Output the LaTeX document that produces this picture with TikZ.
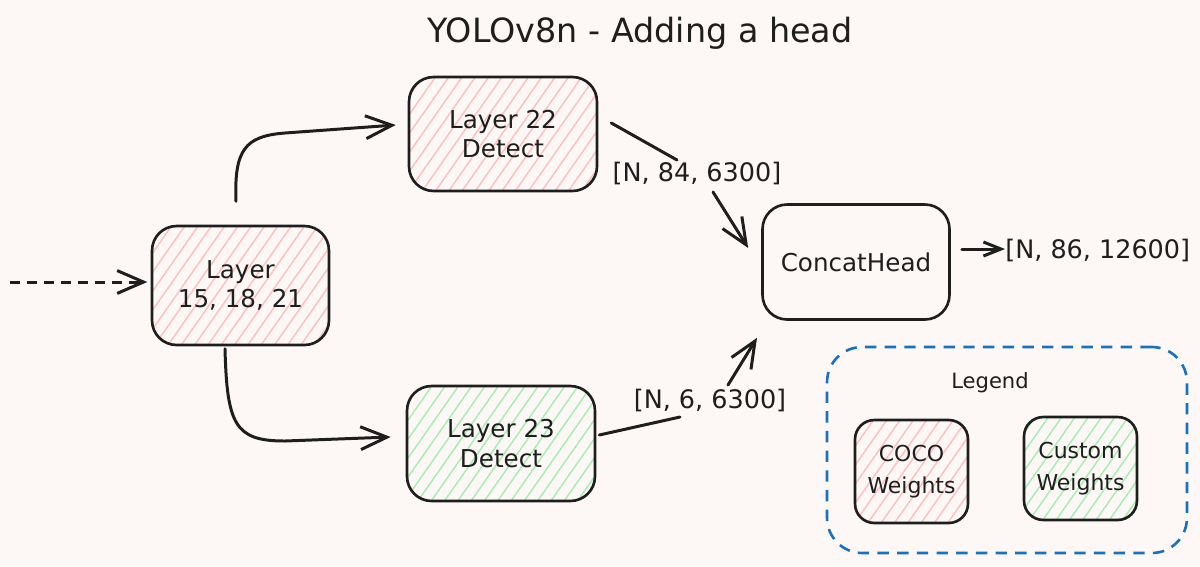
\documentclass[tikz,border=0pt]{standalone}
\usepackage{fontspec}
\setmainfont{DejaVu Sans}
\usetikzlibrary{arrows.meta,patterns.meta}
\definecolor{bg}{HTML}{FDF8F5}
\definecolor{ink}{HTML}{1E1E1E}
\definecolor{pinkh}{HTML}{FFC0C0}
\definecolor{greenh}{HTML}{A8EEB2}
\definecolor{legblue}{HTML}{1971C2}
\begin{document}
\begin{tikzpicture}[x=0.02cm,y=-0.02cm,
  box/.style={draw=ink,line width=1.5pt,rounded corners=14pt,align=center,inner sep=0pt,
    text=ink,font=\fontsize{14}{17}\selectfont},
  cocobox/.style={box,pattern={Lines[angle=55,distance=6.2pt,line width=0.85pt]},pattern color=pinkh},
  custombox/.style={box,pattern={Lines[angle=55,distance=6.2pt,line width=0.85pt]},pattern color=greenh},
  smallbox/.style={rounded corners=11pt,minimum width=2.26cm,minimum height=2.06cm,
    font=\fontsize{12.5}{18}\selectfont},
  lab/.style={text=ink,font=\fontsize{14.5}{17}\selectfont,inner sep=0pt},
  conn/.style={draw=ink,line width=1.7pt,line cap=round,line join=round},
  arr/.style={conn,-{Straight Barb[length=15pt,width=13pt]}},
  smallarr/.style={conn,-{Straight Barb[length=10pt,width=8pt]}},
]
\fill[bg] (0,0) rectangle (1200,566);
\useasboundingbox (0,0) rectangle (1200,566);

% title
\node[text=ink,font=\fontsize{19}{22}\selectfont] (title) at (640,33) {YOLOv8n - Adding a head};

% main boxes
\node[cocobox,minimum width=3.54cm,minimum height=2.38cm] (in15) at (240.5,285.5) {Layer\\15, 18, 21};
\node[cocobox,minimum width=3.76cm,minimum height=2.28cm] (l22) at (503,134) {Layer 22\\Detect};
\node[custombox,minimum width=3.76cm,minimum height=2.30cm] (l23) at (501,443.5) {Layer 23\\Detect};
\node[box,minimum width=3.74cm,minimum height=2.30cm] (concat) at (856,262) {ConcatHead};

% labels
\node[lab] (lab84) at (697,173) {[N, 84, 6300]};
\node[lab] (lab6) at (710,400) {[N, 6, 6300]};
\node[lab,anchor=west] (lab86) at (1005,250) {[N, 86, 12600]};

% input
\coordinate (src) at (10,282);
\draw[arr,dash pattern=on 5.7pt off 4pt,line cap=butt] (src) -- ([shift={(-4,-3.5)}]in15.west);

% branches
\draw[arr] ([shift={(-4.5,-24)}]in15.north) .. controls (234,150) and (245,136) .. (285,133)
  -- ([shift={(-12,-9)}]l22.west);
\draw[arr] ([shift={(-15.5,3)}]in15.south) .. controls (227,425) and (235,441) .. (285,441)
  -- ([shift={(-15,-6.5)}]l23.west);

% to concat
\draw[conn] ([shift={(13,-11)}]l22.east) -- ([shift={(-20,-13)}]lab84.center);
\draw[arr] ([shift={(16,19)}]lab84.center) -- ([shift={(-13,-14)}]concat.west);
\draw[conn] ([shift={(3,-8.5)}]l23.east) -- ([shift={(-30,17)}]lab6.center);
\draw[arr] ([shift={(18,-15)}]lab6.center) -- ([shift={(-99,17)}]concat.south);
\draw[smallarr] ([shift={(11,-13)}]concat.east) -- ([shift={(0,-1)}]lab86.west);

% legend
\node[draw=legblue,line width=1.5pt,dash pattern=on 6.5pt off 4.7pt,rounded corners=20pt,
  minimum width=7.2cm,minimum height=4.12cm] (legend) at (1007,450) {};
\node[text=ink,font=\fontsize{12}{14}\selectfont] (legendtitle) at (990,383) {Legend};
\node[cocobox,smallbox] (cocokey) at (911.5,471.5) {COCO\\Weights};
\node[custombox,smallbox] (customkey) at (1080.5,468.5) {Custom\\Weights};
\end{tikzpicture}
\end{document}
